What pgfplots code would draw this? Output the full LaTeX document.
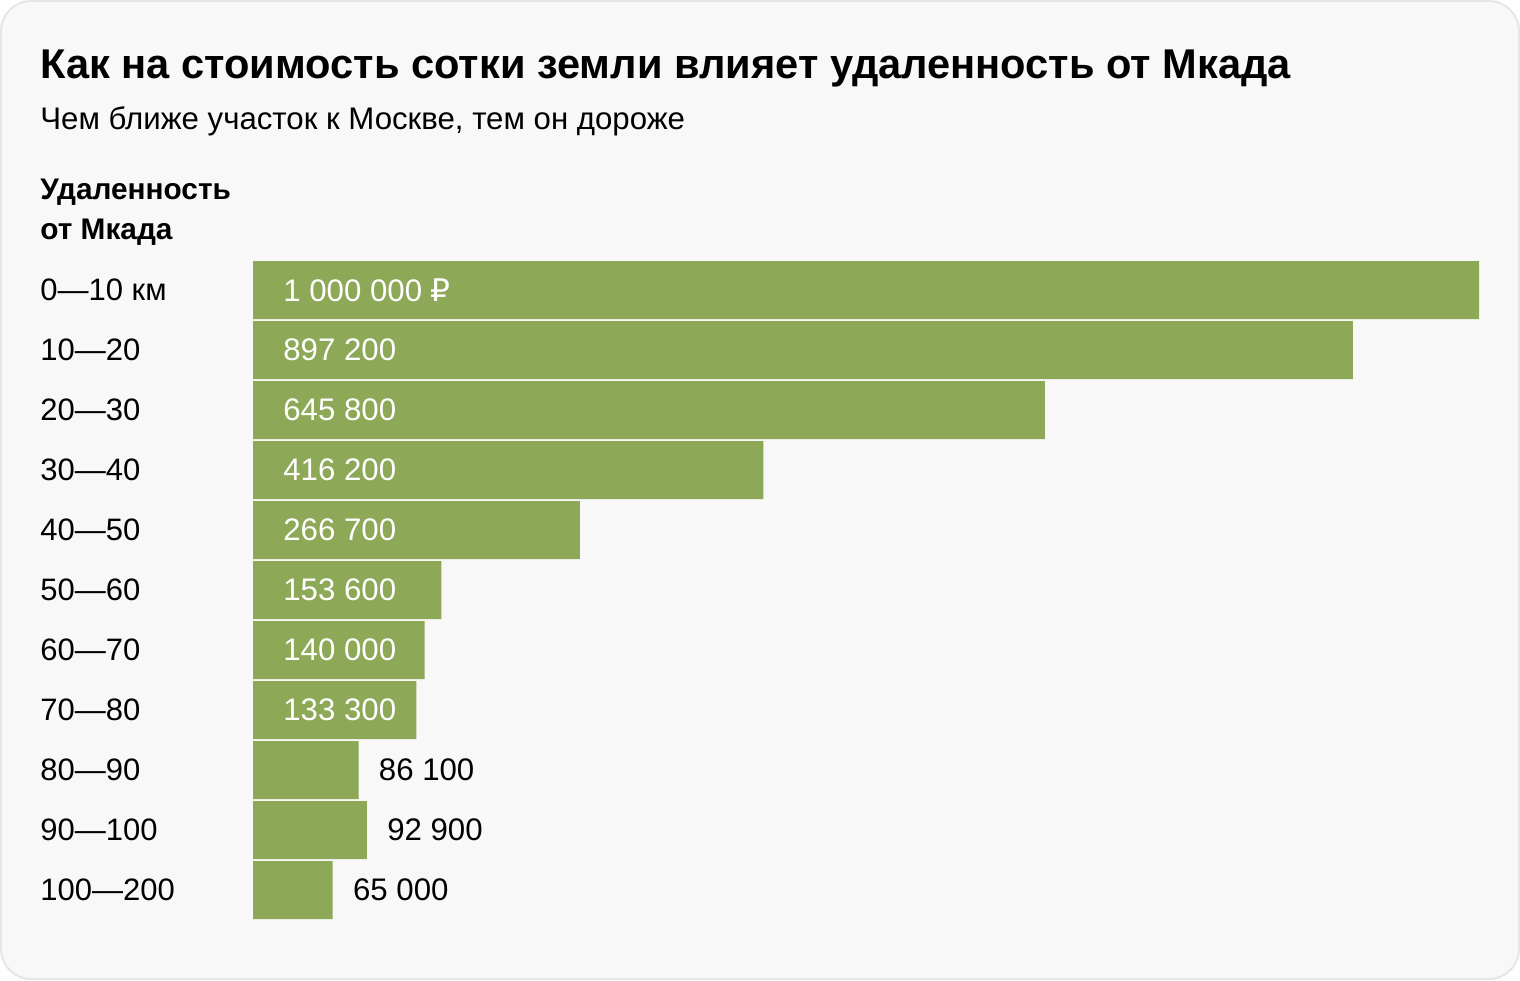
\documentclass[border=0pt]{standalone}
\usepackage{fontspec}
\setmainfont{Liberation Sans}
\newfontfamily\rubfont{DejaVu Sans}
\usepackage{pgfplots}
\pgfplotsset{compat=1.18}
\definecolor{barc}{RGB}{141,168,86}
\definecolor{bgc}{RGB}{248,248,248}
\definecolor{bdc}{RGB}{230,230,230}
\begin{document}
\begin{tikzpicture}
\fill[white] (0pt,0pt) rectangle (760pt,490pt);
\draw[fill=bgc, draw=bdc, line width=1pt, rounded corners=15pt] (0.5pt,0.5pt) rectangle (759.5pt,489.5pt);
\node[anchor=base west, inner sep=0pt, font=\fontsize{20.8pt}{25pt}\selectfont\bfseries] at (20pt,450.5pt) {Как на стоимость сотки земли влияет удаленность от Мкада};
\node[anchor=base west, inner sep=0pt, font=\fontsize{15.6pt}{18pt}\selectfont] at (20pt,425pt) {Чем ближе участок к Москве, тем он дороже};
\node[anchor=base west, inner sep=0pt, font=\fontsize{14.9pt}{17pt}\selectfont\bfseries] at (20pt,390pt) {Удаленность};
\node[anchor=base west, inner sep=0pt, font=\fontsize{14.9pt}{17pt}\selectfont\bfseries] at (20pt,370pt) {от Мкада};
\begin{axis}[
  at={(126.5pt,30pt)}, anchor=south west,
  scale only axis, width=613pt, height=330pt,
  xmin=0, xmax=1000000, ymin=-0.5, ymax=10.5,
  y dir=reverse, clip=false,
  axis line style={draw=none}, major tick length=0pt,
  xtick=\empty,
  ytick={0,1,2,3,4,5,6,7,8,9,10},
  yticklabels={0—10 км,10—20,20—30,30—40,40—50,50—60,60—70,70—80,80—90,90—100,100—200},
  yticklabel style={anchor=west, inner sep=0pt, xshift=-106.5pt, font=\fontsize{15.5pt}{18pt}\selectfont, text=black},
]
\addplot[xbar, fill=barc, draw=none, bar width=29pt, bar shift=0pt] coordinates {
(1000000,0) (897200,1) (645800,2) (416200,3) (266700,4) (153600,5) (140000,6) (133300,7) (86100,8) (92900,9) (65000,10)};
\addplot[draw=none, mark=none, nodes near coords, point meta=explicit symbolic,
  nodes near coords style={anchor=west, inner sep=0pt, xshift=15pt, text=white, font=\fontsize{15.6pt}{18pt}\selectfont}]
coordinates {(0,0) [1 000 000 {\rubfont ₽}] (0,1) [897 200] (0,2) [645 800] (0,3) [416 200] (0,4) [266 700] (0,5) [153 600] (0,6) [140 000] (0,7) [133 300]};
\addplot[draw=none, mark=none, nodes near coords, point meta=explicit symbolic,
  nodes near coords style={anchor=west, inner sep=0pt, xshift=10pt, text=black, font=\fontsize{15.6pt}{18pt}\selectfont}]
coordinates {(86100,8) [86 100] (92900,9) [92 900] (65000,10) [65 000]};
\end{axis}
\end{tikzpicture}
\end{document}
